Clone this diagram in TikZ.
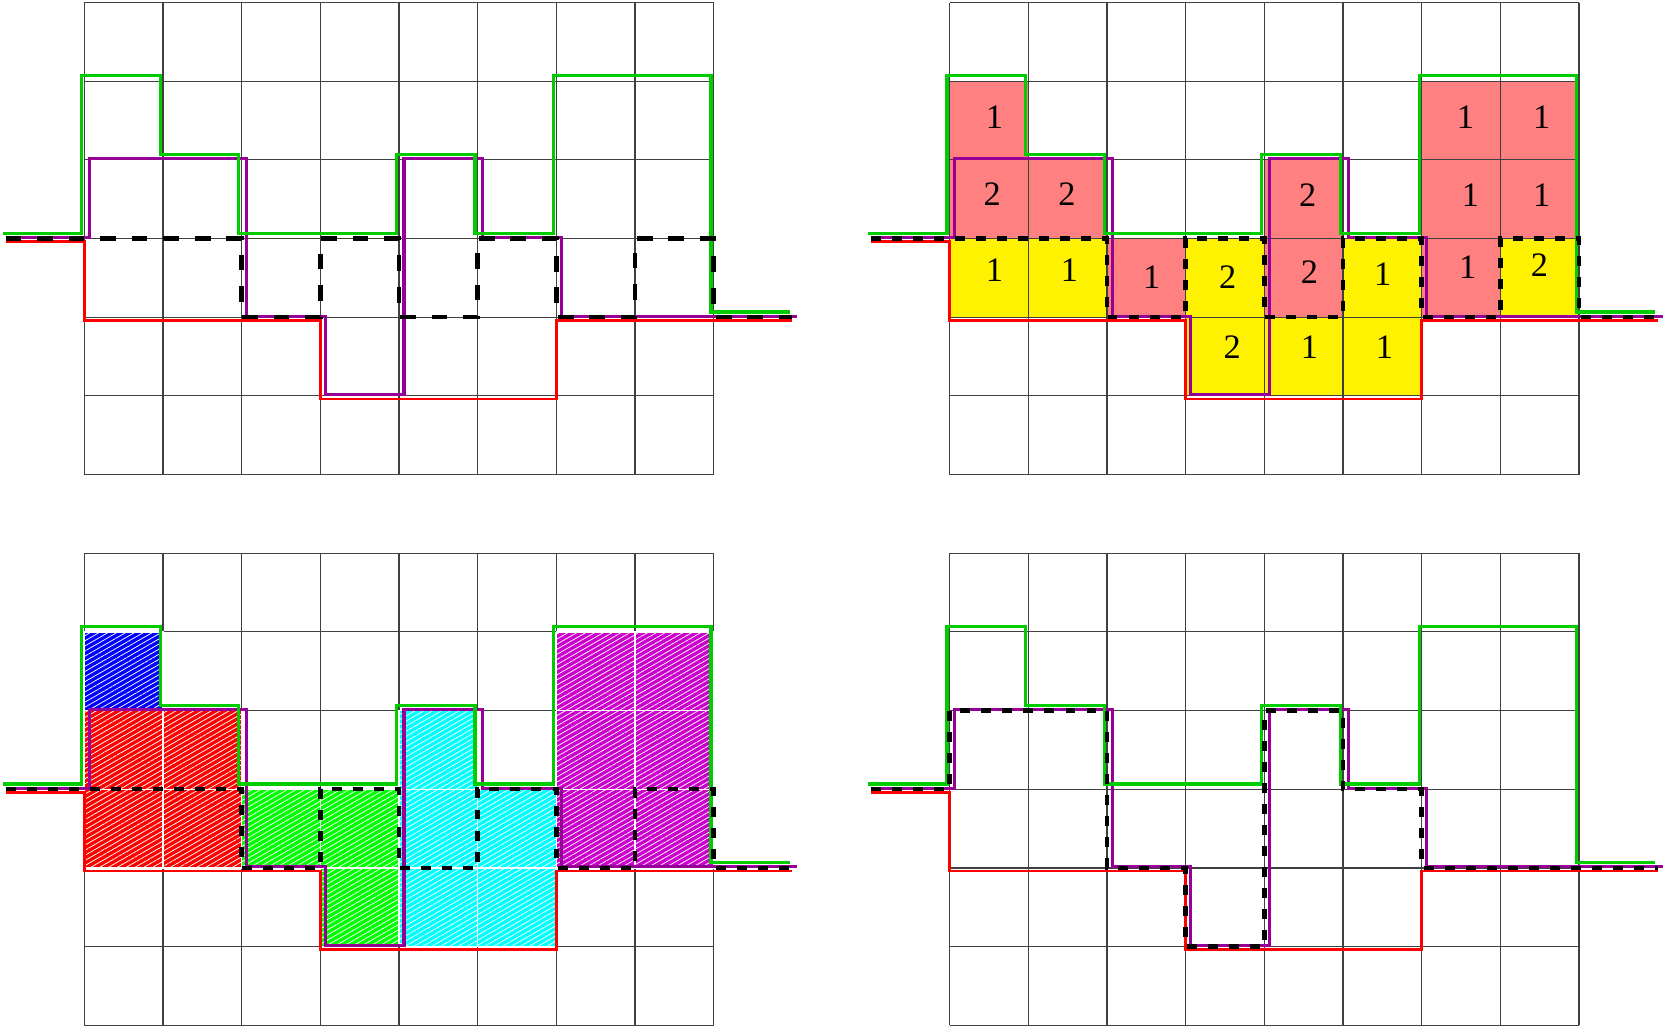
\documentclass[tikz,border=0pt]{standalone}
\usepackage{fontspec}
\setmainfont{Liberation Serif}
\usetikzlibrary{patterns.meta}
\definecolor{lgreen}{RGB}{0,204,0}
\definecolor{lpurple}{RGB}{150,0,150}
\definecolor{salmon}{RGB}{255,128,128}
\definecolor{hblue}{RGB}{0,0,255}
\definecolor{hred}{RGB}{255,0,0}
\definecolor{hgreen}{RGB}{0,255,0}
\definecolor{hcyan}{RGB}{0,255,255}
\definecolor{hmag}{RGB}{204,0,204}
\tikzset{
 gridline/.style={line width=0.4pt, black!75},
 greenline/.style={lgreen, line width=1.1pt},
 purpleline/.style={lpurple, line width=1.1pt},
 redline/.style={red, line width=1pt},
 dashline/.style={black, line width=1.6pt, dash pattern=on 3.6pt off 4pt},
 longdash/.style={dash pattern=on 5.7pt off 5.7pt},
 hatch/.style={pattern={Lines[angle=30,distance=1.6pt,line width=0.28pt]}, pattern color=white},
 num/.style={inner sep=0pt, font=\fontsize{12.4}{14}\selectfont},
}
\newcommand{\gridG}{\draw[gridline] (0,0) grid (8,6);}
\newcommand{\curveR}{\draw[redline, shift={(0,-0.038)}] (-1,3) -- (0,3) -- (0,2) -- (3,2) -- (3,1) -- (6,1) -- (6,2) -- (9,2);}
\newcommand{\curveP}{\draw[purpleline, shift={(0.064,0.015)}] (-1,3) -- (0,3) -- (0,4) -- (2,4) -- (2,2) -- (3,2) -- (3,1) -- (4,1) -- (4,4) -- (5,4) -- (5,3) -- (6,3) -- (6,2) -- (9,2);}
\newcommand{\curveG}{\draw[greenline, shift={(-0.034,0.067)}] (-1,3) -- (0,3) -- (0,5) -- (1,5) -- (1,4) -- (2,4) -- (2,3) -- (4,3) -- (4,4) -- (5,4) -- (5,3) -- (6,3) -- (6,5) -- (8,5) -- (8,2) -- (9,2);}
\newcommand{\curveZ}[1][]{\draw[dashline,#1] (-1,3) -- (2,3) -- (2,2) -- (3,2) -- (3,3) -- (4,3) -- (4,2) -- (5,2) -- (5,3) -- (6,3) -- (6,2) -- (7,2) -- (7,3) -- (8,3) -- (8,2) -- (9,2);}
\newcommand{\curveD}{\draw[dashline] (-1,3) -- (0,3) -- (0,4) -- (2,4) -- (2,2) -- (3,2) -- (3,1) -- (4,1) -- (4,4) -- (5,4) -- (5,3) -- (6,3) -- (6,2) -- (9,2);}
\begin{document}
\begin{tikzpicture}
\useasboundingbox (-1.0716,-0.0216) rectangle (20.131,13.033);
% ---------- top left ----------
\begin{scope}[shift={(0,7)}]
 \gridG
 \curveR \curveP \curveG
 \curveZ[longdash]
\end{scope}
% ---------- top right ----------
\begin{scope}[shift={(11,7)}]
 \foreach \x/\y in {0/4,0/3,1/3,2/2,4/3,4/2,6/4,6/3,6/2,7/4,7/3}
   \fill[salmon] (\x,\y) rectangle ++(1,1);
 \foreach \x/\y in {0/2,1/2,3/2,3/1,4/1,5/2,5/1,7/2}
   \fill[yellow] (\x,\y) rectangle ++(1,1);
 \gridG
 \curveR \curveP \curveG
 \curveZ
 \foreach \x/\y/\t [count=\i] in {0.568/4.542/1, 0.539/3.568/2, 1.492/3.568/2, 0.568/2.593/1, 1.522/2.593/1,
   2.568/2.508/1, 3.534/2.508/2, 3.590/1.618/2, 4.551/3.546/2, 4.572/2.572/2, 4.572/1.618/1,
   5.504/2.551/1, 5.525/1.618/1, 6.555/4.542/1, 6.619/3.546/1, 6.585/2.635/1,
   7.525/4.542/1, 7.525/3.546/1, 7.496/2.657/2}
   \node[num] (n\i) at (\x,\y) {\t};
\end{scope}
% ---------- bottom left ----------
\begin{scope}[shift={(0,0)}]
 \gridG
 \foreach \c/\x/\y in {hblue/0/4, hred/0/2, hred/1/2, hred/0/3, hred/1/3,
   hgreen/2/2, hgreen/3/2, hgreen/3/1,
   hcyan/4/1, hcyan/4/2, hcyan/4/3, hcyan/5/1, hcyan/5/2,
   hmag/6/2, hmag/6/3, hmag/6/4, hmag/7/2, hmag/7/3, hmag/7/4}{
   \filldraw[fill=\c, draw=white, line width=0.5pt] (\x,\y) rectangle ++(1,1);
   \fill[hatch] (\x,\y) rectangle ++(1,1);
 }
 \curveR \curveP \curveG
 \curveZ
\end{scope}
% ---------- bottom right ----------
\begin{scope}[shift={(11,0)}]
 \gridG
 \curveR \curveP \curveG
 \curveD
\end{scope}
\end{tikzpicture}
\end{document}
